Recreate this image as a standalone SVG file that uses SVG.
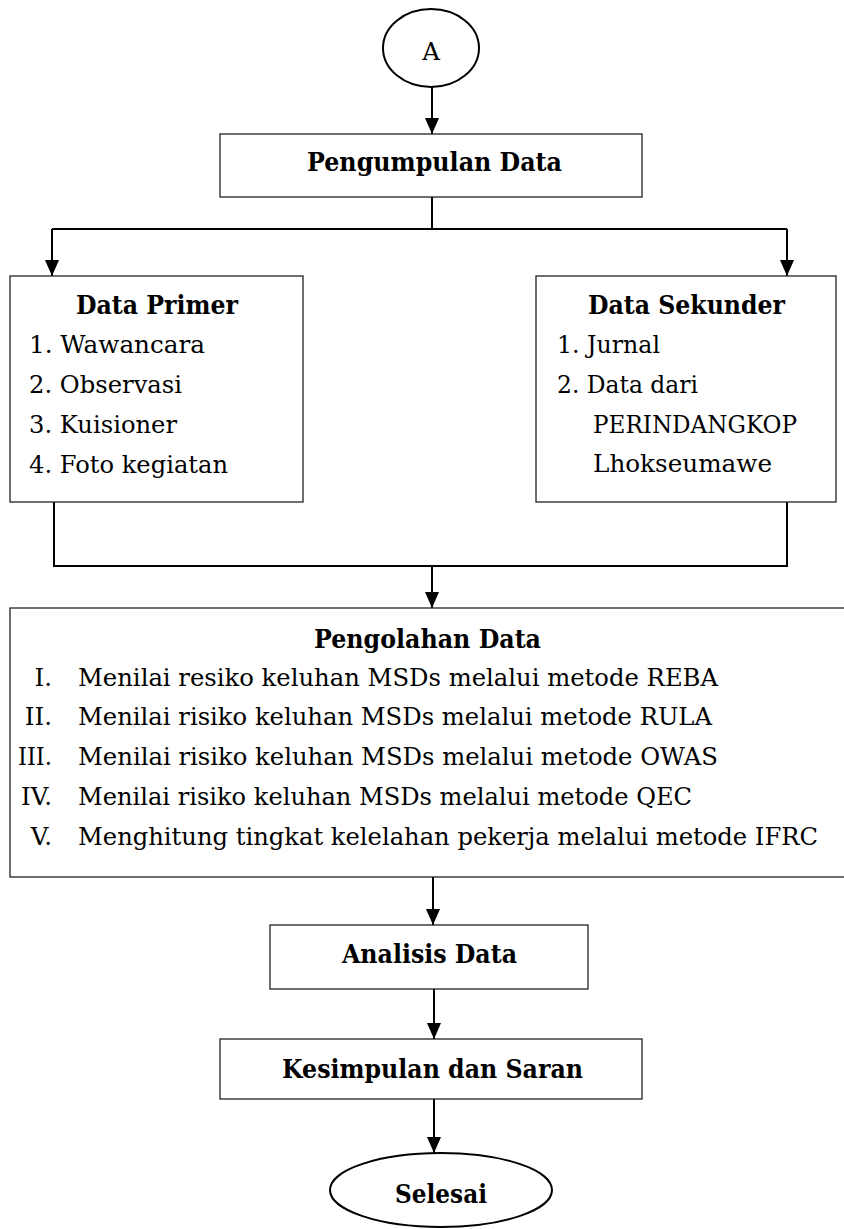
<svg xmlns="http://www.w3.org/2000/svg" width="844" height="1229" viewBox="0 0 844 1229">
<style>
.box{fill:#fff;stroke:#222;stroke-width:1.3}
.term{fill:#fff;stroke:#000;stroke-width:2}
.t{font-family:"DejaVu Serif","Liberation Serif",serif;font-size:24.5px;fill:#000}
.b{font-family:"DejaVu Serif","Liberation Serif",serif;font-size:26px;font-weight:bold;fill:#000}
.c{fill:none;stroke:#000;stroke-width:2}
</style>
<defs>
<marker id="ah" markerUnits="userSpaceOnUse" markerWidth="16" markerHeight="16" refX="16" refY="7" orient="auto">
<path d="M0,0 L16,7 L0,14 Z" fill="#000"/>
</marker>
</defs>
<rect width="844" height="1229" fill="#fff"/>
<g id="connectors">
<path class="c" d="M432 87 V134" marker-end="url(#ah)"/>
<path class="c" d="M432 197 V229"/>
<path class="c" d="M52 229 H787"/>
<path class="c" d="M52 229 V276" marker-end="url(#ah)"/>
<path class="c" d="M787 229 V276" marker-end="url(#ah)"/>
<path class="c" d="M54 502 V566 H787 V502"/>
<path class="c" d="M432 566 V608" marker-end="url(#ah)"/>
<path class="c" d="M433 877 V925" marker-end="url(#ah)"/>
<path class="c" d="M434 989 V1039" marker-end="url(#ah)"/>
<path class="c" d="M434 1099 V1153" marker-end="url(#ah)"/>
</g>
<g id="start">
<ellipse class="term" cx="431" cy="48" rx="48" ry="39"/>
<text class="t" x="431" y="60" text-anchor="middle">A</text>
</g>
<g id="pengumpulan">
<rect class="box" x="220" y="134" width="422" height="63"/>
<text class="b" x="307" y="171" textLength="255" lengthAdjust="spacingAndGlyphs">Pengumpulan Data</text>
</g>
<g id="primer">
<rect class="box" x="10" y="276" width="293" height="226"/>
<text class="b" x="76" y="314" textLength="162" lengthAdjust="spacingAndGlyphs">Data Primer</text>
<text class="t" x="29" y="353" textLength="176" lengthAdjust="spacingAndGlyphs">1. Wawancara</text>
<text class="t" x="29" y="393" textLength="153" lengthAdjust="spacingAndGlyphs">2. Observasi</text>
<text class="t" x="29" y="433" textLength="148" lengthAdjust="spacingAndGlyphs">3. Kuisioner</text>
<text class="t" x="29" y="473" textLength="199" lengthAdjust="spacingAndGlyphs">4. Foto kegiatan</text>
</g>
<g id="sekunder">
<rect class="box" x="536" y="276" width="300" height="226"/>
<text class="b" x="588" y="314" textLength="197" lengthAdjust="spacingAndGlyphs">Data Sekunder</text>
<text class="t" x="557" y="353" textLength="103" lengthAdjust="spacingAndGlyphs">1. Jurnal</text>
<text class="t" x="557" y="393" textLength="141" lengthAdjust="spacingAndGlyphs">2. Data dari</text>
<text class="t" x="593" y="433" textLength="204" lengthAdjust="spacingAndGlyphs">PERINDANGKOP</text>
<text class="t" x="593" y="472" textLength="179" lengthAdjust="spacingAndGlyphs">Lhokseumawe</text>
</g>
<g id="pengolahan">
<rect class="box" x="10" y="608" width="850" height="269"/>
<text class="b" x="314" y="648" textLength="227" lengthAdjust="spacingAndGlyphs">Pengolahan Data</text>
<text class="t" x="52" y="686" text-anchor="end">I.</text>
<text class="t" x="52" y="725" text-anchor="end">II.</text>
<text class="t" x="52" y="765" text-anchor="end" textLength="34" lengthAdjust="spacingAndGlyphs">III.</text>
<text class="t" x="52" y="805" text-anchor="end">IV.</text>
<text class="t" x="52" y="845" text-anchor="end">V.</text>
<text class="t" x="78" y="686" textLength="640" lengthAdjust="spacingAndGlyphs">Menilai resiko keluhan MSDs melalui metode REBA</text>
<text class="t" x="78" y="725" textLength="634" lengthAdjust="spacingAndGlyphs">Menilai risiko keluhan MSDs melalui metode RULA</text>
<text class="t" x="78" y="765" textLength="640" lengthAdjust="spacingAndGlyphs">Menilai risiko keluhan MSDs melalui metode OWAS</text>
<text class="t" x="78" y="805" textLength="614" lengthAdjust="spacingAndGlyphs">Menilai risiko keluhan MSDs melalui metode QEC</text>
<text class="t" x="78" y="845" textLength="740" lengthAdjust="spacingAndGlyphs">Menghitung tingkat kelelahan pekerja melalui metode IFRC</text>
</g>
<g id="analisis">
<rect class="box" x="270" y="925" width="318" height="64"/>
<text class="b" x="342" y="963" textLength="175" lengthAdjust="spacingAndGlyphs">Analisis Data</text>
</g>
<g id="kesimpulan">
<rect class="box" x="220" y="1039" width="422" height="60"/>
<text class="b" x="282" y="1078" textLength="301" lengthAdjust="spacingAndGlyphs">Kesimpulan dan Saran</text>
</g>
<g id="selesai">
<ellipse class="term" cx="441" cy="1190" rx="111" ry="37"/>
<text class="b" x="395" y="1203" textLength="92" lengthAdjust="spacingAndGlyphs">Selesai</text>
</g>
</svg>
